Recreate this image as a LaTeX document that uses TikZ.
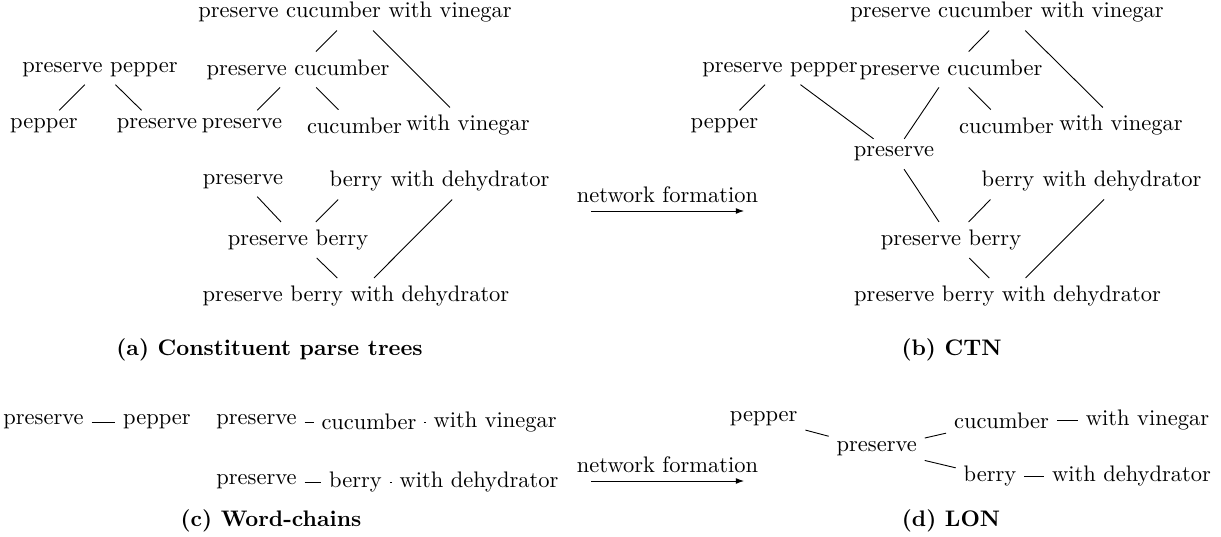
\documentclass[tikz,border=0pt]{standalone}
\usetikzlibrary{arrows.meta}
\begin{document}
\begin{tikzpicture}[x=0.4448pt,y=-0.4448pt,
  w/.style={inner sep=.3333em, font=\fontsize{10}{12}\selectfont},
  part/.style={w, inner xsep=0pt},
  link/.style={line width=0.4pt},
  capt/.style={anchor=base, font=\fontsize{10}{12}\selectfont\bfseries},
  flow/.style={line width=0.4pt, -{Latex[length=3.6pt,width=2.6pt]}}
]
\useasboundingbox (0,0) rectangle (1221,537);

% (a) constituent parse trees
\node[w] (a1) at (355,12.5) {preserve cucumber with vinegar};
\node[w] (a2) at (100,69.5) {preserve pepper};
\node[w] (a3) at (298,69.5) {preserve cucumber};
\node[w] (a4) at (44,125.5) {pepper};
\node[w] (a5) at (157,125.5) {preserve};
\node[w] (a6) at (242,125.5) {preserve};
\node[w] (a7) at (354.5,125.5) {cucumber};
\node[w] (a8) at (468,125.5) {with vinegar};
\node[w] (a9) at (243,181.5) {preserve};
\node[part] (a10b) at (356,181.5) {berry};
\node[part, anchor=west] (a10w) at ([xshift=3.333pt]a10b.east) {with dehydrator};
\node[w] (a11) at (298,240) {preserve berry};
\node[w] (a12) at (356,296) {preserve berry with dehydrator};
\draw[link] (a1) -- (a3);
\draw[link] (a1) -- (a8);
\draw[link] (a2) -- (a4);
\draw[link] (a2) -- (a5);
\draw[link] (a3) -- (a6);
\draw[link] (a3) -- (a7);
\draw[link] (a9) -- (a11);
\draw[link] (a10b) -- (a11);
\draw[link] (a11) -- (a12);
\draw[link] (a10w) -- (a12);

% (b) CTN
\node[w] (b1) at (1007,12.5) {preserve cucumber with vinegar};
\node[w] (b2) at (780,69.5) {preserve pepper};
\node[w] (b3) at (951,69.5) {preserve cucumber};
\node[w] (b4) at (724.5,125.5) {pepper};
\node[w] (b5) at (894,154) {preserve};
\node[w] (b6) at (1006.5,125.5) {cucumber};
\node[w] (b7) at (1121,125.5) {with vinegar};
\node[part] (b8b) at (1008,181.5) {berry};
\node[part, anchor=west] (b8w) at ([xshift=3.333pt]b8b.east) {with dehydrator};
\node[w] (b9) at (951,240) {preserve berry};
\node[w] (b10) at (1007.5,296) {preserve berry with dehydrator};
\draw[link] (b1) -- (b3);
\draw[link] (b1) -- (b7);
\draw[link] (b2) -- (b4);
\draw[link] (b2) -- (b5);
\draw[link] (b3) -- (b5);
\draw[link] (b3) -- (b6);
\draw[link] (b5) -- (b9);
\draw[link] (b8b) -- (b9);
\draw[link] (b9) -- (b10);
\draw[link] (b8w) -- (b10);

% network formation arrows
\coordinate (f1s) at (591,211);
\coordinate (f1e) at (744,211);
\draw[flow] (f1s) -- node[w, above] {network formation} (f1e);
\coordinate (f2s) at (591,481);
\coordinate (f2e) at (744,481);
\draw[flow] (f2s) -- node[w, above] {network formation} (f2e);

% (c) word-chains
\node[w] (c1) at (43.5,422) {preserve};
\node[w] (c2) at (157,422) {pepper};
\node[w] (c3) at (256.5,422) {preserve};
\node[w] (c4) at (369,422) {cucumber};
\node[w] (c5) at (495.2,422) {with vinegar};
\node[w] (c6) at (256.5,482) {preserve};
\node[w] (c7) at (355.5,482) {berry};
\node[w] (c8) at (479,482) {with dehydrator};
\draw[link] (c1) -- (c2);
\draw[link] (c3) -- (c4);
\draw[link] (c4) -- (c5);
\draw[link] (c6) -- (c7);
\draw[link] (c7) -- (c8);

% (d) LON
\node[w] (d1) at (763.7,419) {pepper};
\node[w] (d2) at (876.7,449) {preserve};
\node[w] (d3) at (1001.5,420.5) {cucumber};
\node[w] (d4) at (1147.5,420.5) {with vinegar};
\node[w] (d5) at (990,476) {berry};
\node[w] (d6) at (1131.5,476) {with dehydrator};
\draw[link] (d1) -- (d2);
\draw[link] (d2) -- (d3);
\draw[link] (d2) -- (d5);
\draw[link] (d3) -- (d4);
\draw[link] (d5) -- (d6);

% sub-figure captions
\node[capt] (ca) at (269.5,355) {(a) Constituent parse trees};
\node[capt] (cb) at (951.5,355) {(b) CTN};
\node[capt] (cc) at (271,526) {(c) Word-chains};
\node[capt] (cd) at (951,526) {(d) LON};
\end{tikzpicture}
\end{document}
